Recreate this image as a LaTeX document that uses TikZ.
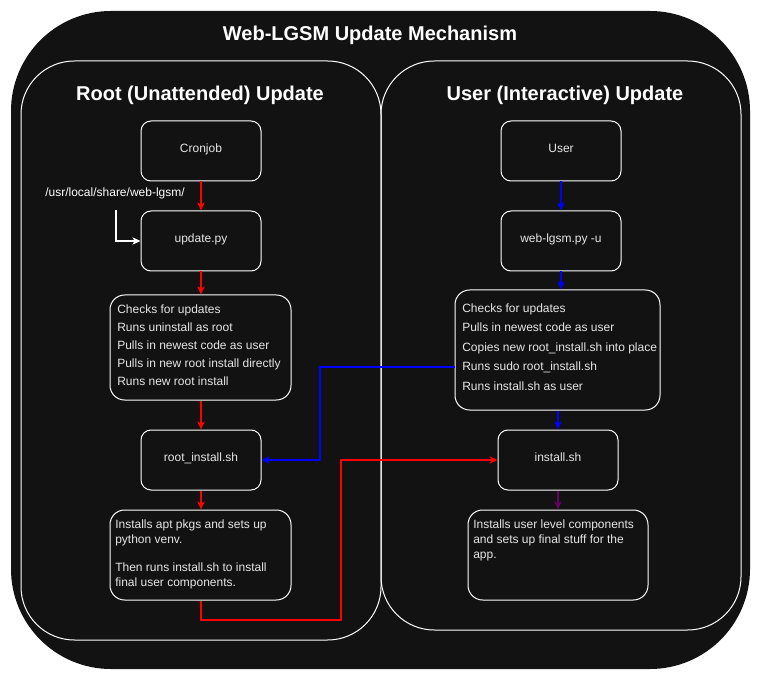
\documentclass[tikz,border=0pt]{standalone}
\usepackage{fontspec}
\setmainfont{Liberation Sans}
\usetikzlibrary{arrows.meta}
\definecolor{bg}{HTML}{121212}
\definecolor{txt}{HTML}{E6E6E6}
\definecolor{redc}{HTML}{FF0000}
\definecolor{bluec}{HTML}{0000FF}
\definecolor{purc}{HTML}{660066}
\begin{document}
\begin{tikzpicture}[x=0.75pt,y=-0.75pt,
  box/.style={draw=white, rounded corners=7.5pt, line width=0.75pt, text=txt,
    font=\fontsize{9}{11}\selectfont, minimum width=90pt, minimum height=45pt, inner sep=0pt,
    text height=6.6pt, text depth=4.4pt},
  boxtext/.style={text=txt, anchor=north west, inner sep=0pt, align=left},
  container/.style={draw=white, line width=0.75pt, rounded corners=40pt},
  heading/.style={text=white, font=\fontsize{15}{17}\selectfont\bfseries, inner sep=0pt},
  conn/.style={line width=0.9pt, -{Stealth[length=6pt,width=5.5pt,inset=1.5pt]}},
  redarr/.style={conn, draw=redc},
  bluearr/.style={conn, draw=bluec},
  purarr/.style={conn, draw=purc},
  whitearr/.style={conn, draw=white}
]
\useasboundingbox (0,0) rectangle (761,681);
\fill[white] (0,0) rectangle (761,681);
\fill[bg, rounded corners=75pt] (11,11) rectangle (750,669);

\draw[container] (21,61) rectangle (381,640);
\draw[container] (381,61) rectangle (741,630);

\node[heading] (title) at (370,35) {Web-LGSM Update Mechanism};
\node[heading] (roothead) at (200,95) {Root (Unattended) Update};
\node[heading] (userhead) at (565,95) {User (Interactive) Update};

% left column
\node[box] (cron) at (201,151) {Cronjob};
\node[box] (update) at (201,241) {update.py};
\node[box, minimum width=135.75pt, minimum height=78.75pt, rounded corners=11pt, text height=, text depth=] (lchk) at (200.5,347.5) {};
\node[boxtext, font=\fontsize{9}{13.5}\selectfont] (lchktext) at (117,304.5) {Checks for updates\\Runs uninstall as root\\Pulls in newest code as user\\Pulls in new root install directly\\Runs new root install};
\node[box] (rootinst) at (201,460) {root\_install.sh};
\node[box, minimum width=135.75pt, minimum height=67.5pt, rounded corners=11pt, text height=, text depth=] (lapt) at (200.5,555) {};
\node[boxtext, font=\fontsize{9}{11.25}\selectfont] (lapttext) at (115,519.5) {Installs apt pkgs and sets up\\python venv.\\[10pt]Then runs install.sh to install\\final user components.};

\node[text=white, font=\fontsize{9}{11}\selectfont, inner sep=0pt] (path) at (115,193) {/usr/local/share/web-lgsm/};
\coordinate (p1) at (116,210);

% right column
\node[box] (user) at (561,151) {User};
\node[box] (web) at (561,241) {web-lgsm.py -u};
\node[box, minimum width=153.75pt, minimum height=90pt, rounded corners=11pt, text height=, text depth=] (rchk) at (557.5,350) {};
\node[boxtext, font=\fontsize{9}{14.6}\selectfont] (rchktext) at (462,303.5) {Checks for updates\\Pulls in newest code as user\\Copies new root\_install.sh into place\\Runs sudo root\_install.sh\\Runs install.sh as user};
\node[box] (install) at (558,460) {install.sh};
\node[box, minimum width=135pt, minimum height=67.5pt, rounded corners=11pt, text height=, text depth=] (uapt) at (558,555) {};
\node[boxtext, font=\fontsize{9}{11.25}\selectfont] (uapttext) at (473,519.5) {Installs user level components\\and sets up final stuff for the\\app.};

% connectors
\draw[redarr] (cron) -- (update);
\draw[redarr] (update.south) -- (update.south |- lchk.north);
\draw[redarr] (lchk.south -| rootinst) -- (rootinst.north);
\draw[redarr] (rootinst.south) -- (rootinst.south |- lapt.north);
\coordinate (r1) at (341,620);
\draw[redarr] (lapt.south -| rootinst) |- (r1) |- (install.west);

\draw[whitearr] (p1) |- (update.west);

\draw[bluearr] (user) -- (web);
\draw[bluearr] (web.south) -- (web.south |- rchk.north);
\draw[bluearr] (rchk.south -| install) -- (install.north);
\coordinate (b1) at (320,367);
\draw[bluearr] ([yshift=-12.75pt]rchk.west) -- (b1) |- (rootinst.east);

\draw[purarr] (install) -- (uapt);
\end{tikzpicture}
\end{document}
